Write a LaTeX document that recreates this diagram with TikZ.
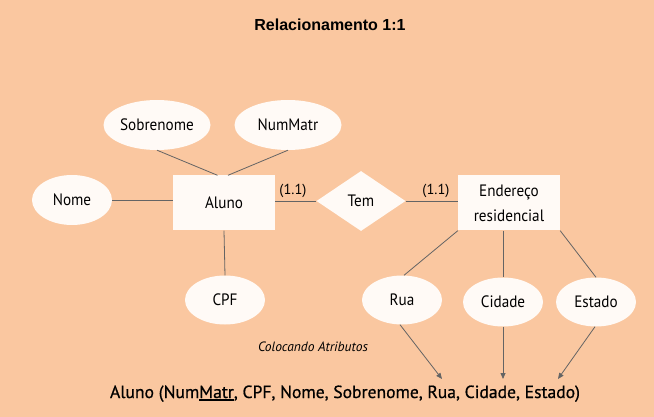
\documentclass[tikz,border=0pt]{standalone}
\usepackage{fontspec}
\setmainfont{PT Sans}
\newfontfamily\titlefont{Liberation Sans}
\newfontfamily\heavyfont[FakeBold=0.6]{PT Sans}
\newfontfamily\nodefont[FakeStretch=0.92]{PT Sans}
\usetikzlibrary{shapes.geometric,arrows.meta}
\definecolor{bg}{RGB}{250,199,160}
\definecolor{nodefill}{RGB}{255,250,246}
\definecolor{lin}{RGB}{100,100,100}
\newcommand\thickul[1]{\setbox0\hbox{#1}\rlap{\rule[-3pt]{\wd0}{1.6pt}}\box0}
\begin{document}
\begin{tikzpicture}[x=1pt,y=-1pt,
  attr/.style={ellipse, fill=nodefill, inner sep=0pt, minimum width=80pt, minimum height=49pt, font=\nodefont\fontsize{16.5}{19}\selectfont},
  wideattr/.style={attr, minimum width=107pt, minimum height=50pt},
  ent/.style={rectangle, fill=nodefill, minimum width=102pt, minimum height=55pt, inner sep=0pt, align=center, font=\nodefont\fontsize{16.5}{25}\selectfont},
  rel/.style={diamond, fill=nodefill, minimum width=89pt, minimum height=60pt, aspect=1.48, inner sep=0pt, font=\nodefont\fontsize{16.5}{19}\selectfont},
  conn/.style={draw=lin, line width=0.8pt},
  arr/.style={conn, -{Triangle[length=6pt,width=5pt]}},
  card/.style={font=\fontsize{14.5}{16}\selectfont, inner sep=0pt}
]
\fill[bg] (0,0) rectangle (654,417);
\useasboundingbox (0,0) rectangle (654,417);

\node[font=\titlefont\bfseries\fontsize{16}{19}\selectfont] (title) at (330,25) {Relacionamento 1:1};

\node[wideattr] (sob) at (157,125) {Sobrenome};
\node[wideattr] (nm) at (288,125) {NumMatr};
\node[attr, minimum height=50pt] (nome) at (72,200) {Nome};
\node[ent] (aluno) at (224,203) {Aluno};
\node[rel] (tem) at (361,201) {Tem};
\node[ent] (end) at (509,203) {Endereço\\residencial};
\node[attr] (cpf) at (225,300) {CPF};
\node[attr] (rua) at (402,300) {Rua};
\node[attr] (cid) at (503,302) {Cidade};
\node[attr] (est) at (596,302) {Estado};

\node[card] (c1) at (293,191) {(1.1)};
\node[card] (c2) at (436,191) {(1.1)};

\node[font=\itshape\fontsize{13.5}{15}\selectfont] (col) at (313,347) {Colocando Atributos};
\node[anchor=base, font=\heavyfont\fontsize{17.6}{20}\selectfont, inner sep=0pt] (rel) at (345,398)
  {Aluno (Num\thickul{Matr}, CPF, Nome, Sobrenome, Rua, Cidade, Estado)};

\coordinate (a1) at (442,379);
\coordinate (a2) at (503,379);
\coordinate (a3) at (558,379);

\draw[conn] (sob.south) -- ([xshift=-6.5pt]aluno.north);
\draw[conn] (nm.south) -- ([xshift=4pt]aluno.north);
\draw[conn] (nome.east) -- (aluno.west |- nome.east);
\draw[conn] (aluno.south) -- (cpf.north);
\draw[conn] (aluno.east |- tem.west) -- (tem.west);
\draw[conn] (tem.east) -- (end.west |- tem.east);
\draw[conn] (end.south west) -- ([xshift=2pt]rua.north);
\draw[conn] (end.south -| cid.north) -- (cid.north);
\draw[conn] (end.south east) -- (est.north);
\draw[arr] ([xshift=-2pt]rua.south) -- (a1);
\draw[arr] (cid.south) -- (a2);
\draw[arr] ([xshift=-1pt]est.south) -- (a3);
\end{tikzpicture}
\end{document}
